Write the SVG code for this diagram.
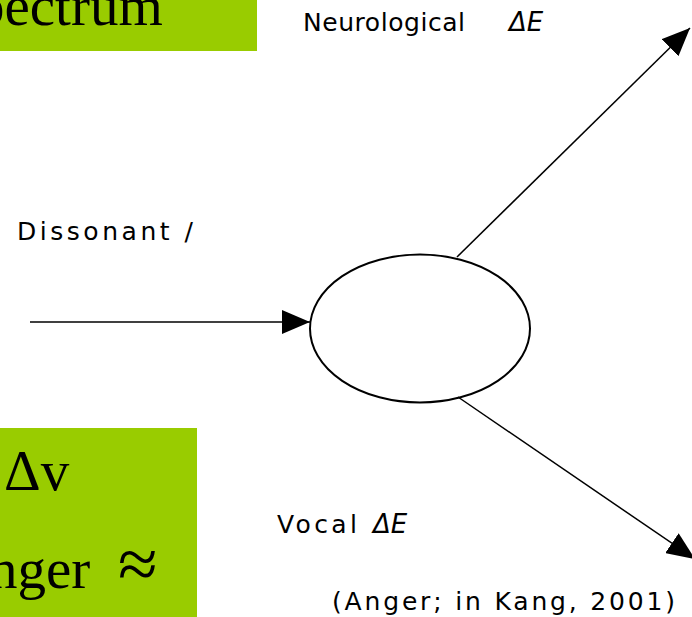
<svg xmlns="http://www.w3.org/2000/svg" width="692" height="617" viewBox="0 0 692 617">
<style>
.box{fill:#99cc00}
.big{font-family:"Liberation Serif","Times New Roman",serif;font-size:57px;fill:#000}
.lbl{font-family:"DejaVu Sans","Liberation Sans",sans-serif;font-size:25px;fill:#000}
.it{font-style:italic;font-size:26px}
.con{stroke:#000;stroke-width:1.5;fill:none}
</style>
<defs>
<marker id="ah" markerUnits="userSpaceOnUse" markerWidth="30" markerHeight="24" refX="28" refY="12" orient="auto">
<path d="M0,0 L28,12 L0,24 Z" fill="#000"/>
</marker>
</defs>
<rect width="692" height="617" fill="#fff"/>
<g id="spectrum-box">
<rect class="box" x="0" y="0" width="257" height="51"/>
<text class="big" x="-24" y="25" font-size="63">pectrum</text>
</g>
<g id="anger-box">
<rect class="box" x="0" y="428" width="197" height="189"/>
<text class="big" x="4" y="490">Δv</text>
<text class="big" x="-11" y="588">nger <tspan x="118" font-size="72">≈</tspan></text>
</g>
<g id="node-center">
<ellipse cx="420" cy="328.5" rx="110" ry="74" fill="#fff" stroke="#000" stroke-width="2"/>
</g>
<g id="connectors">
<line class="con" x1="30" y1="322" x2="310" y2="322" marker-end="url(#ah)"/>
<line class="con" x1="457" y1="257" x2="690" y2="28" marker-end="url(#ah)"/>
<line class="con" x1="458" y1="397" x2="695" y2="559" marker-end="url(#ah)"/>
</g>
<g id="labels">
<text class="lbl" y="31"><tspan x="303" textLength="162" lengthAdjust="spacing">Neurological</tspan> <tspan class="it" x="509">ΔE</tspan></text>
<text class="lbl" x="17" y="240" textLength="176" lengthAdjust="spacing">Dissonant /</text>
<text class="lbl" y="533"><tspan x="277" textLength="80" lengthAdjust="spacing">Vocal</tspan> <tspan class="it" x="373">ΔE</tspan></text>
<text class="lbl" x="332" y="610" textLength="343" lengthAdjust="spacing">(Anger; in Kang, 2001)</text>
</g>
</svg>
